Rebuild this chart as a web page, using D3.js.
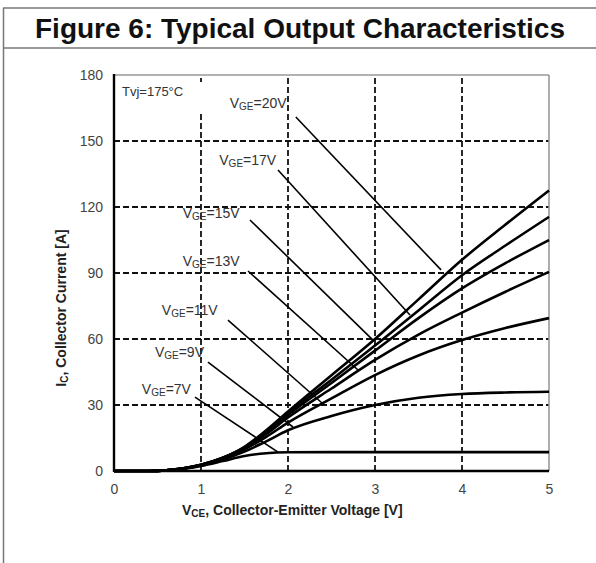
<!DOCTYPE html>
<html lang="en">
<head>
  <meta charset="UTF-8">
  <title>Figure 6: Typical Output Characteristics</title>
  <script src="https://d3js.org/d3.v7.min.js"></script>
  <style>
    body { margin: 0; background: #fff; font-family: "Liberation Sans", Arial, sans-serif; }
    .tick text { fill: #444; font-size: 14px; }
    .grid line { stroke: #111; stroke-width: 1.8; stroke-dasharray: 6 3; }
    .curve { fill: none; stroke: #000; stroke-width: 2.6; }
    .leader { stroke: #000; stroke-width: 1.6; }
    .lbl { fill: #333; font-size: 14px; }
  </style>
</head>
<body>
<div id="chart"></div>
<script>
// Vce sample points [V] and collector current [A] for each gate voltage
const vce  = [0, 0.4, 0.6, 0.8, 1.0, 1.25, 1.5, 1.75, 2, 2.5, 3, 3.5, 4, 4.5, 5];
const ic20 = [0, 0, 0.3, 1.2, 2.8, 6, 11, 18.5, 27, 43.5, 60, 78, 96, 112, 127.5];
const ic17 = [0, 0, 0.3, 1.2, 2.8, 6, 10.8, 18, 26.3, 41.5, 57, 73, 89, 102.5, 115.5];
const ic15 = [0, 0, 0.3, 1.2, 2.8, 5.9, 10.6, 17.5, 25.5, 40, 54.7, 69.5, 83, 94.5, 105];
const ic13 = [0, 0, 0.3, 1.2, 2.7, 5.8, 10.3, 16.8, 24.3, 37.5, 50.5, 62, 72, 81.5, 90.5];
const ic11 = [0, 0, 0.3, 1.1, 2.6, 5.6, 9.8, 15.5, 22, 33, 43.6, 52.5, 59.5, 65, 69.5];
const ic9  = [0, 0, 0.3, 1.1, 2.5, 5.2, 8.8, 13.5, 18.5, 25, 30, 33.3, 35, 35.7, 36];
const ic7  = [0, 0, 0.3, 1.0, 2.3, 4.5, 6.8, 8.1, 8.5, 8.6, 8.6, 8.6, 8.6, 8.6, 8.6];

const vgeNames = ["20V", "17V", "15V", "13V", "11V", "9V", "7V"];
const series = [ic20, ic17, ic15, ic13, ic11, ic9, ic7];

const xTicks = [0, 1, 2, 3, 4, 5];
const yTicks = [0, 30, 60, 90, 120, 150, 180];

// label text anchor and leader line ends, in data units
const labelAt  = [[1.33, 165], [1.21, 139], [0.79, 115], [0.79, 93], [0.55, 71], [0.47, 52], [0.32, 35]];
const leaderA  = [[2.09, 160.9], [1.885, 136.8], [1.563, 114.1], [1.54, 90.9], [1.31, 68.6], [1.08, 49.5], [0.931, 33.6]];
const leaderB  = [[3.759, 91.4], [3.402, 70.9], [2.977, 59.5], [2.805, 45.9], [2.391, 30.9], [2.057, 20.0], [1.885, 8.6]];

const W = 596, H = 563;
const svg = d3.select("#chart").append("svg").attr("width", W).attr("height", H);

// outer table frame
svg.append("line").attr("x1", 3).attr("x2", W).attr("y1", 8).attr("y2", 8).attr("stroke", "#777").attr("stroke-width", 1.5);
svg.append("line").attr("x1", 3).attr("x2", W).attr("y1", 48).attr("y2", 48).attr("stroke", "#777").attr("stroke-width", 1.5);
svg.append("line").attr("x1", 3.5).attr("x2", 3.5).attr("y1", 8).attr("y2", H).attr("stroke", "#777").attr("stroke-width", 1.5);

svg.append("text").attr("x", 300).attr("y", 38).attr("text-anchor", "middle")
  .attr("font-family", "'Liberation Sans Narrow', 'Arial Narrow', 'Liberation Sans', Arial, sans-serif")
  .attr("font-weight", "bold").attr("font-size", 28).attr("fill", "#111")
  .attr("textLength", 530).attr("lengthAdjust", "spacingAndGlyphs")
  .text("Figure 6: Typical Output Characteristics");

const x = d3.scaleLinear().domain([0, 5]).range([114, 549]);
const y = d3.scaleLinear().domain([0, 180]).range([471, 75]);

// grid
const grid = svg.append("g").attr("class", "grid");
grid.selectAll(".gv").data(xTicks.slice(1, -1)).enter().append("line")
  .attr("x1", d => x(d)).attr("x2", d => x(d)).attr("y1", y(0)).attr("y2", y(180));
grid.selectAll(".gh").data(yTicks.slice(1, -1)).enter().append("line")
  .attr("x1", x(0)).attr("x2", x(5)).attr("y1", d => y(d)).attr("y2", d => y(d));

// frame of plot
svg.append("line").attr("x1", x(0)).attr("x2", x(5)).attr("y1", y(180)).attr("y2", y(180)).attr("stroke", "#999").attr("stroke-width", 1.6);
svg.append("line").attr("x1", x(5)).attr("x2", x(5)).attr("y1", y(180)).attr("y2", y(0)).attr("stroke", "#999").attr("stroke-width", 1.6);

// Tvj label with white box over the grid
svg.append("rect").attr("x", x(0) + 3).attr("y", 82).attr("width", 92).attr("height", 29).attr("fill", "#fff");
svg.append("text").attr("x", x(0) + 8).attr("y", 96).attr("font-size", 13).attr("fill", "#333").text("Tvj=175°C");

// axes
svg.append("g").attr("transform", `translate(0,${y(0)})`)
  .call(d3.axisBottom(x).tickValues(xTicks).tickSize(0).tickPadding(13).tickFormat(d3.format("d")))
  .call(g => g.select(".domain").remove());
svg.append("g").attr("transform", `translate(${x(0)},0)`)
  .call(d3.axisLeft(y).tickValues(yTicks).tickSize(0).tickPadding(11))
  .call(g => g.select(".domain").remove());

svg.append("line").attr("x1", x(0)).attr("x2", x(0)).attr("y1", y(180) - 1).attr("y2", y(0) + 1).attr("stroke", "#000").attr("stroke-width", 2.4);

// curves
const line = d3.line().x((d, i) => x(vce[i])).y(d => y(d)).curve(d3.curveMonotoneX);
svg.selectAll(".curve").data(series).enter().append("path")
  .attr("class", "curve").attr("d", d => line(d));

svg.append("line").attr("x1", x(0)).attr("x2", x(5)).attr("y1", y(0)).attr("y2", y(0)).attr("stroke", "#000").attr("stroke-width", 2.4);

// leaders and labels
svg.selectAll(".leader").data(vgeNames).enter().append("line").attr("class", "leader")
  .attr("x1", (d, i) => x(leaderA[i][0])).attr("y1", (d, i) => y(leaderA[i][1]))
  .attr("x2", (d, i) => x(leaderB[i][0])).attr("y2", (d, i) => y(leaderB[i][1]));

const lbl = svg.selectAll(".lbl").data(vgeNames).enter().append("text").attr("class", "lbl")
  .attr("x", (d, i) => x(labelAt[i][0])).attr("y", (d, i) => y(labelAt[i][1]));
lbl.append("tspan").text("V");
lbl.append("tspan").attr("font-size", 10).attr("dy", 2).text("GE");
lbl.append("tspan").attr("dy", -2).text(d => "=" + d);

// axis titles
const xt = svg.append("text").attr("x", 182).attr("y", 515).attr("font-weight", "bold").attr("font-size", 14).attr("fill", "#222");
xt.append("tspan").text("V");
xt.append("tspan").attr("font-size", 10).attr("dy", 2).text("CE");
xt.append("tspan").attr("dy", -2).text(", Collector-Emitter Voltage [V]");

const yt = svg.append("text").attr("transform", "translate(66,308) rotate(-90)").attr("text-anchor", "middle")
  .attr("font-weight", "bold").attr("font-size", 14).attr("fill", "#222");
yt.append("tspan").text("I");
yt.append("tspan").attr("font-size", 10).attr("dy", 2).text("C");
yt.append("tspan").attr("dy", -2).text(", Collector Current [A]");
</script>
</body>
</html>
